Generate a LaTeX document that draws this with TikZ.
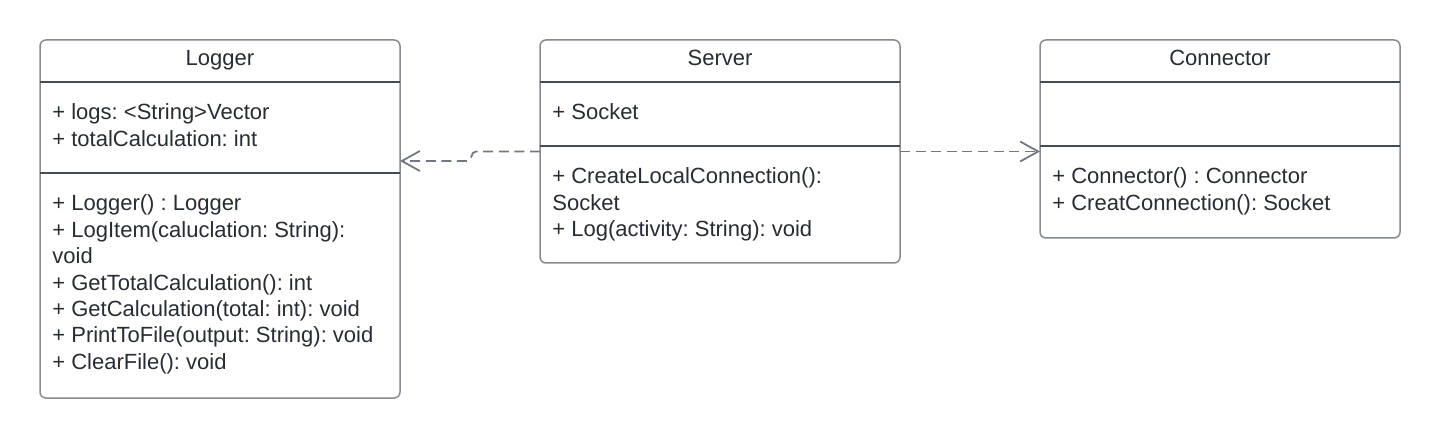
\documentclass[tikz,border=0pt]{standalone}
\usepackage{fontspec}
\setmainfont{Liberation Sans}
\usetikzlibrary{arrows.meta,calc}
\definecolor{txt}{RGB}{40,44,51}
\definecolor{bord}{RGB}{134,138,146}
\definecolor{divl}{RGB}{70,74,82}
\definecolor{conn}{RGB}{115,119,127}
\begin{document}
\frenchspacing
\begin{tikzpicture}[x=0.5pt,y=-0.5pt,
  umlbox/.style={draw=bord, line width=0.75pt, rounded corners=3pt, inner sep=0pt, outer sep=0pt, fill=white},
  titletext/.style={anchor=base, text=txt, font=\fontsize{11}{13.2}\selectfont, inner sep=0pt},
  linetext/.style={anchor=base west, text=txt, font=\fontsize{11}{13.2}\selectfont, inner sep=0pt},
  divider/.style={draw=divl, line width=0.6pt},
  dep/.style={draw=conn, line width=0.9pt, dash pattern=on 5pt off 2.8pt, -{Straight Barb[length=9pt,width=10pt]}}]
\useasboundingbox (0,0) rectangle (1440,438);

% boxes
\node[umlbox, minimum width=180pt, minimum height=179pt] (logger) at (220,219) {};
\node[umlbox, minimum width=180pt, minimum height=111.5pt] (server) at (720,151.5) {};
\node[umlbox, minimum width=180pt, minimum height=99pt] (connector) at (1220,139) {};

% dividers
\draw[divider] (logger.west |- 0,82) -- (logger.east |- 0,82);
\draw[divider] (logger.west |- 0,173) -- (logger.east |- 0,173);
\draw[divider] (server.west |- 0,82) -- (server.east |- 0,82);
\draw[divider] (server.west |- 0,146) -- (server.east |- 0,146);
\draw[divider] (connector.west |- 0,82) -- (connector.east |- 0,82);
\draw[divider] (connector.west |- 0,146) -- (connector.east |- 0,146);

% Logger
\node[titletext] (lt) at (220,66) {Logger};
\node[linetext] (la1) at (52,120) {+ logs: <String>Vector};
\node[linetext] (la2) at (52,146.4) {+ totalCalculation: int};
\node[linetext] (lm1) at (52,211) {+ Logger() : Logger};
\node[linetext] (lm2) at (52,237.4) {+ LogItem(caluclation: String):};
\node[linetext] (lm3) at (52,263.8) {void};
\node[linetext] (lm4) at (52,290.2) {+ GetTotalCalculation(): int};
\node[linetext] (lm5) at (52,316.6) {+ GetCalculation(total: int): void};
\node[linetext] (lm6) at (52,343) {+ PrintToFile(output: String): void};
\node[linetext] (lm7) at (52,369.4) {+ ClearFile(): void};

% Server
\node[titletext] (st) at (720,66) {Server};
\node[linetext] (sa1) at (552,120) {+ Socket};
\node[linetext] (sm1) at (552,184) {+ CreateLocalConnection():};
\node[linetext] (sm2) at (552,210.4) {Socket};
\node[linetext] (sm3) at (552,236.8) {+ Log(activity: String): void};

% Connector
\node[titletext] (ct) at (1220,66) {Connector};
\node[linetext] (cm1) at (1052,184) {+ Connector() : Connector};
\node[linetext] (cm2) at (1052,210.4) {+ CreatConnection(): Socket};

% connectors
\draw[dep] (server.west) -- (476,151.5) .. controls (470,151.5) and (473,161) .. (467,161) -- (logger.east |- 0,161);
\draw[dep] (server.east) -- (connector.west |- server.east);
\end{tikzpicture}
\end{document}
